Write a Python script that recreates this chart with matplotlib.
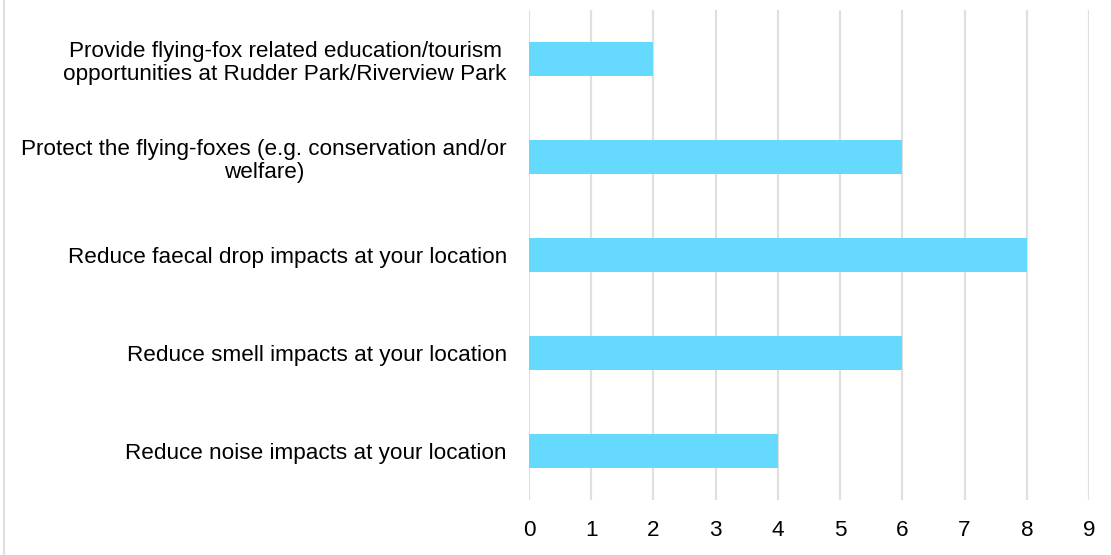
import matplotlib.pyplot as plt
from matplotlib.lines import Line2D

plt.rcParams['font.family'] = ['Liberation Sans', 'DejaVu Sans']

categories = [
    "Reduce noise impacts at your location",
    "Reduce smell impacts at your location",
    "Reduce faecal drop impacts at your location",
    "Protect the flying-foxes (e.g. conservation and/or\nwelfare)",
    "Provide flying-fox related education/tourism\nopportunities at Rudder Park/Riverview Park",
]
values = [4, 6, 8, 6, 2]
xticks = list(range(0, 10))

fig = plt.figure(figsize=(11.11, 5.55), dpi=100)
ax = fig.add_axes([529 / 1111, 1 - 500 / 555, 560 / 1111, 490 / 555])

ax.barh(range(len(categories)), values, height=0.34, color='#66D9FF', zorder=3)

ax.set_xlim(0, 9)
ax.set_ylim(-0.5, len(categories) - 0.5)
ax.set_xticks(xticks)
ax.set_yticks(range(len(categories)))
ax.set_yticklabels(categories, multialignment='center', linespacing=1.15)
ax.grid(axis='x', color='#e0e0e0', linewidth=1.6, zorder=0)
ax.tick_params(axis='both', length=0, labelsize=16.2, colors='#000000')
ax.tick_params(axis='x', pad=14.5)
ax.tick_params(axis='y', pad=16)
for s in ax.spines.values():
    s.set_visible(False)

fig.add_artist(Line2D([4 / 1111, 4 / 1111], [0, 1], color='#e0e0e0', linewidth=1.6))

fig.savefig('out.png', dpi=100)
